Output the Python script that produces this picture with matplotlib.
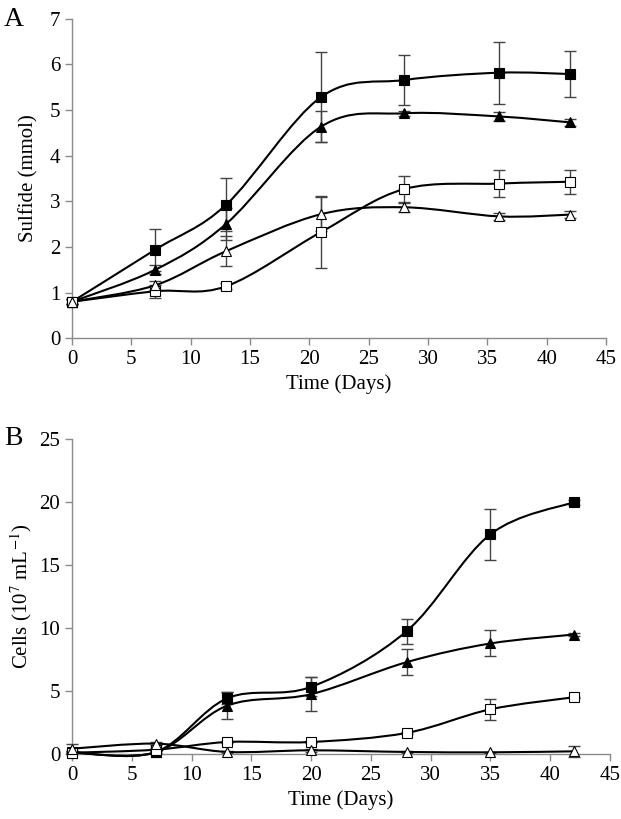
import matplotlib
matplotlib.use("Agg")
import matplotlib.pyplot as plt
from matplotlib.path import Path
from matplotlib.patches import PathPatch

plt.rcParams['font.family'] = ['Liberation Serif', 'DejaVu Serif']
plt.rcParams['mathtext.fontset'] = 'stix'

# Panel A - sulfide (mmol)
days_a = [0, 7, 13, 21, 28, 36, 42]
sulf_fsq = [0.8, 1.94, 2.93, 5.29, 5.66, 5.82, 5.79]
sulf_fsq_err = [0.05, 0.46, 0.59, 0.98, 0.54, 0.68, 0.50]
sulf_ftri = [0.8, 1.50, 2.51, 4.64, 4.93, 4.86, 4.73]
sulf_ftri_err = [0.05, 0.10, 0.35, 0.33, 0.05, 0.10, 0.08]
sulf_osq = [0.8, 1.03, 1.14, 2.33, 3.27, 3.39, 3.43]
sulf_osq_err = [0.05, 0.14, 0.06, 0.78, 0.28, 0.30, 0.26]
sulf_otri = [0.8, 1.16, 1.91, 2.72, 2.87, 2.67, 2.71]
sulf_otri_err = [0.05, 0.10, 0.33, 0.38, 0.10, 0.08, 0.08]

# Panel B - cells (10^7 mL^-1)
days_b = [0, 7, 13, 20, 28, 35, 42]
cells_fsq = [0.15, 0.15, 4.42, 5.32, 9.74, 17.41, 19.97]
cells_fsq_err = [0.10, 0.10, 0.47, 0.75, 1.00, 2.00, 0.20]
cells_ftri = [0.10, 0.13, 3.84, 4.74, 7.28, 8.76, 9.47]
cells_ftri_err = [0.10, 0.10, 1.10, 1.35, 1.02, 1.03, 0.10]
cells_osq = [0.10, 0.34, 0.95, 0.95, 1.67, 3.54, 4.50]
cells_osq_err = [0.05, 0.10, 0.10, 0.10, 0.10, 0.83, 0.05]
cells_otri = [0.42, 0.82, 0.16, 0.29, 0.16, 0.13, 0.21]
cells_otri_err = [0.40, 0.10, 0.05, 0.10, 0.05, 0.05, 0.45]


def smooth_path(x, y):
    # excel-like smoothed line: catmull-rom as cubic bezier
    pts = list(zip(x, y))
    verts = [pts[0]]
    codes = [Path.MOVETO]
    n = len(pts)
    for i in range(n - 1):
        p0 = pts[i - 1] if i > 0 else pts[i]
        p1 = pts[i]
        p2 = pts[i + 1]
        p3 = pts[i + 2] if i + 2 < n else pts[i + 1]
        c1 = (p1[0] + (p2[0] - p0[0]) / 6, p1[1] + (p2[1] - p0[1]) / 6)
        c2 = (p2[0] - (p3[0] - p1[0]) / 6, p2[1] - (p3[1] - p1[1]) / 6)
        verts += [c1, c2, p2]
        codes += [Path.CURVE4] * 3
    return Path(verts, codes)


def draw_series(ax, x, y, err, marker, face, ms):
    ax.errorbar(x, y, yerr=err, fmt='none', ecolor='#444444', elinewidth=1,
                capsize=4, capthick=1, zorder=2, clip_on=False)
    ax.add_patch(PathPatch(smooth_path(x, y), fill=False, edgecolor='black',
                           lw=1.5, zorder=3, clip_on=False))
    ax.plot(x, y, linestyle='none', marker=marker, markerfacecolor=face,
            markeredgecolor='black', markeredgewidth=0.8, markersize=ms,
            zorder=4, clip_on=False)


def style_axes(ax):
    for s in ['top', 'right']:
        ax.spines[s].set_visible(False)
    for s in ['left', 'bottom']:
        ax.spines[s].set_color('#8a8a8a')
        ax.spines[s].set_linewidth(1)
    ax.tick_params(colors='#8a8a8a', labelcolor='black', labelsize=15,
                   length=5, width=1, direction='out')
    ax.set_xlim(0, 45)
    ax.set_xticks(range(0, 46, 5))


fig = plt.figure(figsize=(6.21, 8.19), dpi=100)

# A
ax1 = fig.add_axes([0.116, 0.587, 0.860, 0.390])
draw_series(ax1, days_a, sulf_fsq, sulf_fsq_err, 's', 'black', 7.5)
draw_series(ax1, days_a, sulf_ftri, sulf_ftri_err, '^', 'black', 7.5)
draw_series(ax1, days_a, sulf_osq, sulf_osq_err, 's', 'white', 7.5)
draw_series(ax1, days_a, sulf_otri, sulf_otri_err, '^', 'white', 7.5)
style_axes(ax1)
ax1.set_ylim(0, 7)
ax1.set_yticks(range(0, 8))
ax1.set_xlabel('Time (Days)', fontsize=15, labelpad=4)
ax1.set_ylabel('Sulfide (mmol)', fontsize=15, labelpad=8)
fig.text(0.006, 0.992, 'A', fontsize=20, va='top', ha='left')

# B
ax2 = fig.add_axes([0.116, 0.0794, 0.866, 0.385])
draw_series(ax2, days_b, cells_fsq, cells_fsq_err, 's', 'black', 6.5)
draw_series(ax2, days_b, cells_ftri, cells_ftri_err, '^', 'black', 6.5)
draw_series(ax2, days_b, cells_osq, cells_osq_err, 's', 'white', 6.5)
draw_series(ax2, days_b, cells_otri, cells_otri_err, '^', 'white', 6.5)
style_axes(ax2)
ax2.set_ylim(0, 25)
ax2.set_yticks(range(0, 26, 5))
ax2.set_xlabel('Time (Days)', fontsize=15, labelpad=4)
ax2.set_ylabel('Cells (10$^{7}$ mL$^{\\mathrm{-1}}$)', fontsize=15, labelpad=4)
fig.text(0.006, 0.480, 'B', fontsize=20, va='top', ha='left')

fig.savefig('out.png', dpi=100)
